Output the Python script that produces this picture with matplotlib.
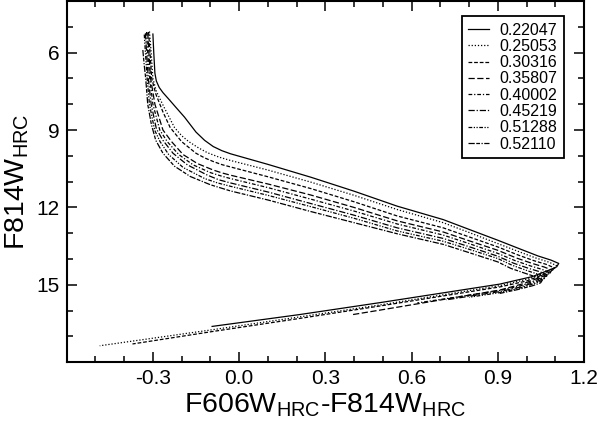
import matplotlib
matplotlib.use("Agg")
import matplotlib.pyplot as plt
from matplotlib.ticker import FixedLocator

plt.rcParams['font.family'] = ['Liberation Sans', 'DejaVu Sans']
plt.rcParams['mathtext.fontset'] = 'custom'
plt.rcParams['mathtext.rm'] = 'Liberation Sans'
plt.rcParams['mathtext.it'] = 'Liberation Sans:italic'
plt.rcParams['mathtext.bf'] = 'Liberation Sans:bold'

labels = ["0.22047", "0.25053", "0.30316", "0.35807", "0.40002", "0.45219", "0.51288", "0.52110"]

c1 = [-0.300, -0.297, -0.293, -0.288, -0.278, -0.265, -0.245, -0.220, -0.190, -0.150, -0.120, -0.090, -0.060, -0.030, 0.100, 0.250, 0.400, 0.550, 0.710, 0.800, 0.900, 0.980, 1.040, 1.085, 1.112, 1.105, 1.080, 1.020, 0.907, 0.489, 0.211, -0.094]
m1 = [5.28, 6.00, 6.80, 7.10, 7.35, 7.55, 7.80, 8.12, 8.50, 9.08, 9.40, 9.64, 9.80, 9.92, 10.33, 10.83, 11.37, 11.95, 12.47, 12.85, 13.27, 13.62, 13.88, 14.04, 14.17, 14.30, 14.42, 14.68, 14.97, 15.69, 16.15, 16.61]

c2 = [-0.312, -0.306, -0.300, -0.288, -0.262, -0.225, -0.200, -0.175, -0.140, -0.110, -0.070, -0.030, 0.100, 0.250, 0.400, 0.550, 0.710, 0.800, 0.900, 0.975, 1.030, 1.078, 1.104, 1.097, 1.070, 1.010, 0.907, 0.489, 0.211, -0.094, -0.485]
m2 = [5.18, 6.00, 7.00, 7.50, 8.10, 8.90, 9.22, 9.45, 9.70, 9.88, 10.05, 10.18, 10.55, 11.02, 11.53, 12.08, 12.59, 12.97, 13.40, 13.72, 13.95, 14.12, 14.25, 14.37, 14.50, 14.76, 15.03, 15.78, 16.24, 16.74, 17.36]

c3 = [-0.315, -0.310, -0.304, -0.290, -0.265, -0.240, -0.200, -0.150, -0.120, -0.090, -0.060, -0.030, 0.100, 0.250, 0.400, 0.550, 0.710, 0.800, 0.900, 0.970, 1.025, 1.070, 1.096, 1.089, 1.062, 1.000, 0.907, 0.489, 0.211, -0.094, -0.371]
m3 = [5.20, 6.00, 7.00, 7.60, 8.30, 8.90, 9.45, 9.90, 10.08, 10.22, 10.34, 10.43, 10.81, 11.27, 11.78, 12.33, 12.79, 13.14, 13.53, 13.84, 14.06, 14.21, 14.34, 14.46, 14.59, 14.85, 15.08, 15.82, 16.30, 16.81, 17.29]

c4 = [-0.318, -0.314, -0.308, -0.293, -0.265, -0.235, -0.195, -0.145, -0.090, -0.060, -0.030, 0.100, 0.250, 0.400, 0.550, 0.710, 0.800, 0.900, 0.965, 1.020, 1.062, 1.088, 1.081, 1.054, 0.990, 0.907, 0.489, 0.396]
m4 = [5.22, 6.00, 7.00, 8.00, 9.00, 9.45, 9.95, 10.30, 10.55, 10.66, 10.75, 11.09, 11.52, 12.00, 12.52, 12.95, 13.29, 13.66, 13.96, 14.17, 14.31, 14.43, 14.55, 14.68, 14.95, 15.20, 15.98, 16.15]

c5 = [-0.322, -0.318, -0.311, -0.300, -0.276, -0.250, -0.210, -0.160, -0.100, -0.060, -0.030, 0.100, 0.250, 0.400, 0.550, 0.710, 0.800, 0.900, 0.960, 1.015, 1.054, 1.080, 1.073, 1.046, 0.985, 0.907, 0.620]
m5 = [5.20, 6.00, 7.00, 8.00, 9.00, 9.45, 9.95, 10.35, 10.65, 10.79, 10.88, 11.23, 11.68, 12.14, 12.64, 13.07, 13.40, 13.78, 14.06, 14.27, 14.40, 14.52, 14.64, 14.77, 15.02, 15.22, 15.70]

c6 = [-0.326, -0.322, -0.316, -0.306, -0.288, -0.265, -0.230, -0.180, -0.110, -0.070, -0.030, 0.100, 0.250, 0.400, 0.550, 0.710, 0.800, 0.900, 0.955, 1.010, 1.046, 1.072, 1.065, 1.038, 0.980, 0.907, 0.720]
m6 = [5.25, 6.00, 7.00, 8.00, 8.95, 9.40, 9.90, 10.35, 10.75, 10.93, 11.05, 11.40, 11.85, 12.30, 12.79, 13.20, 13.52, 13.89, 14.16, 14.37, 14.49, 14.61, 14.73, 14.86, 15.08, 15.26, 15.58]

c7 = [-0.330, -0.326, -0.320, -0.312, -0.294, -0.275, -0.245, -0.195, -0.120, -0.075, -0.030, 0.100, 0.250, 0.400, 0.550, 0.710, 0.800, 0.900, 0.950, 1.005, 1.038, 1.064, 1.057, 1.030, 0.975, 0.907, 0.800]
m7 = [5.30, 6.00, 7.00, 8.00, 9.00, 9.45, 9.95, 10.45, 10.88, 11.05, 11.18, 11.53, 11.97, 12.42, 12.91, 13.31, 13.62, 13.98, 14.24, 14.46, 14.58, 14.70, 14.82, 14.94, 15.13, 15.30, 15.48]

c8 = [-0.335, -0.330, -0.325, -0.318, -0.305, -0.290, -0.265, -0.225, -0.170, -0.100, -0.030, 0.100, 0.250, 0.400, 0.550, 0.710, 0.800, 0.900, 0.945, 1.000, 1.030, 1.056, 1.049, 1.022, 0.970, 0.907]
m8 = [5.90, 6.50, 7.00, 8.00, 8.80, 9.40, 9.90, 10.40, 10.80, 11.12, 11.36, 11.71, 12.16, 12.59, 13.02, 13.43, 13.75, 14.11, 14.36, 14.57, 14.68, 14.80, 14.92, 15.03, 15.18, 15.33]

x_major = [-0.3, 0.0, 0.3, 0.6, 0.9, 1.2]
x_minor = [-0.5, -0.4, -0.2, -0.1, 0.1, 0.2, 0.4, 0.5, 0.7, 0.8, 1.0, 1.1]
y_major = [6, 9, 12, 15]
y_minor = [5, 7, 8, 10, 11, 13, 14, 16, 17]

colors = [c1, c2, c3, c4, c5, c6, c7, c8]
mags = [m1, m2, m3, m4, m5, m6, m7, m8]
styles = ['-', (0, (1, 1.5)), (0, (3, 1.5)), (0, (5, 2)),
          (0, (3, 1.5, 1, 1.5)), (0, (5, 1.5, 1, 1.5)),
          (0, (3, 1.2, 1, 1.2, 1, 1.2)), (0, (5, 1.2, 3, 1.2, 1, 1.2))]

fig = plt.figure(figsize=(5.99, 4.22), dpi=100)
ax = fig.add_axes([0.1113, 0.1415, 0.975 - 0.1113, 0.9976 - 0.1415])

for c, m, ls, lab in zip(colors, mags, styles, labels):
    ax.plot(c, m, color='black', lw=0.9, linestyle=ls, label=lab)

ax.set_xlim(-0.6, 1.2)
ax.set_ylim(18, 4)
ax.xaxis.set_major_locator(FixedLocator(x_major))
ax.xaxis.set_minor_locator(FixedLocator(x_minor))
ax.yaxis.set_major_locator(FixedLocator(y_major))
ax.yaxis.set_minor_locator(FixedLocator(y_minor))
ax.set_xticklabels([f"{v:.1f}" for v in x_major])
ax.set_yticklabels([str(v) for v in y_major])

ax.tick_params(which='both', direction='in', top=True, right=True, width=1.1, labelsize=15, pad=5)
ax.tick_params(which='major', length=7.2)
ax.tick_params(which='minor', length=4)
for s in ax.spines.values():
    s.set_linewidth(1.5)

ax.set_xlabel(r'F606W$_{\mathrm{HRC}}$-F814W$_{\mathrm{HRC}}$', fontsize=20.5, labelpad=2)
ax.set_ylabel(r'F814W$_{\mathrm{HRC}}$', fontsize=20.5, labelpad=4)

leg = ax.legend(loc='upper right', bbox_to_anchor=(0.961, 0.958), borderaxespad=0,
                fontsize=11.5, frameon=True, fancybox=False, framealpha=1,
                edgecolor='black', handlelength=1.3, handletextpad=0.65,
                borderpad=0.4, labelspacing=0.08)
leg.get_frame().set_linewidth(1.3)

fig.savefig('out.png', dpi=100)
